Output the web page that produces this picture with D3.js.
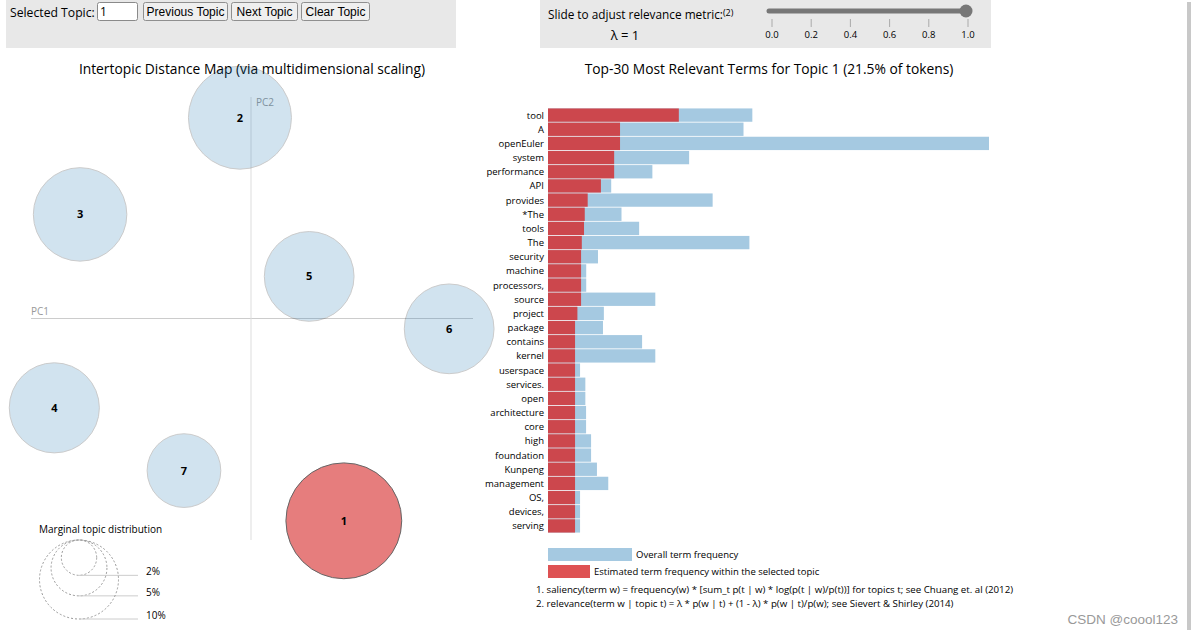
<!DOCTYPE html>
<html>
<head>
<meta charset="utf-8">
<script src="https://cdn.jsdelivr.net/npm/d3@7"></script>
<style>
  html, body { margin: 0; padding: 0; background: #fff; }
  svg { display: block; font-family: "Open Sans", "Noto Sans", sans-serif; }
</style>
</head>
<body>
<svg id="chart" width="1191" height="635"></svg>
<script>
// ---------------- data ----------------
const topicIds   = [1, 2, 3, 4, 5, 6, 7];
const topicPC1   = [0.126, -0.015, -0.232, -0.267, 0.079, 0.269, -0.091];
const topicPC2   = [-0.274, 0.272, 0.141, -0.121, 0.057, -0.014, -0.206];
const topicFreq  = [21.5, 17.0, 14.0, 13.0, 12.9, 12.9, 8.7];   // % of tokens
const selectedTopic = 1;

const terms = ["tool","A","openEuler","system","performance","API","provides","*The","tools","The",
  "security","machine","processors,","source","project","package","contains","kernel","userspace","services.",
  "open","architecture","core","high","foundation","Kunpeng","management","OS,","devices,","serving"];
const overallFreq = [13.9,13.3,30.0,9.6,7.1,4.3,11.2,5.0,6.2,13.7,
  3.4,2.6,2.6,7.3,3.8,3.74,6.4,7.3,2.18,2.54,
  2.54,2.59,2.59,2.93,2.93,3.33,4.1,2.18,2.18,2.18];
const topicTermFreq = [8.9,4.9,4.9,4.5,4.5,3.6,2.7,2.5,2.45,2.3,
  2.25,2.25,2.25,2.25,2.0,1.84,1.84,1.84,1.84,1.84,
  1.84,1.84,1.84,1.84,1.84,1.84,1.84,1.84,1.84,1.84];

const sliderTicks = [0.0, 0.2, 0.4, 0.6, 0.8, 1.0];
const lambdaValue = 1;
const marginalLegend = [2, 5, 10];

// ---------------- drawing ----------------
const svg = d3.select("#chart");
const blue = "#1f77b4", red = "#d62728";

// --- top control panels
svg.append("rect").attr("x", 6).attr("y", 0).attr("width", 450).attr("height", 48).attr("fill", "#e8e8e8");
svg.append("rect").attr("x", 540).attr("y", 0).attr("width", 451).attr("height", 48).attr("fill", "#e8e8e8");

svg.append("text").attr("x", 10).attr("y", 16.5).attr("font-size", 12.2).attr("fill", "#000").text("Selected Topic:");
// input box
svg.append("rect").attr("x", 97.5).attr("y", 2.5).attr("width", 40).attr("height", 18).attr("rx", 2)
  .attr("fill", "#fff").attr("stroke", "#8a8a8a");
svg.append("text").attr("x", 100).attr("y", 15.5).attr("font-size", 12).text(String(selectedTopic));
const buttons = [["Previous Topic", 143, 84], ["Next Topic", 231, 66], ["Clear Topic", 301, 68]];
buttons.forEach(([label, x, w]) => {
  svg.append("rect").attr("x", x + 0.5).attr("y", 2.5).attr("width", w).attr("height", 18).attr("rx", 2)
    .attr("fill", "#efefef").attr("stroke", "#8f8f8f");
  svg.append("text").attr("x", x + w / 2 + 0.5).attr("y", 15.5).attr("text-anchor", "middle")
    .attr("font-family", "Liberation Sans, Arial, sans-serif").attr("font-size", 12).text(label);
});

// slider
const sl = svg.append("text").attr("x", 548).attr("y", 19).attr("font-size", 11.8);
sl.append("tspan").text("Slide to adjust relevance metric:");
sl.append("tspan").attr("font-size", 9).attr("dy", -3).text("(2)");
svg.append("text").attr("x", 625).attr("y", 40).attr("font-size", 13).attr("text-anchor", "middle")
  .text("λ = " + lambdaValue);
const sx = d3.scaleLinear().domain([0, 1]).range([772, 968]);
svg.append("line").attr("x1", 769).attr("x2", 968).attr("y1", 11).attr("y2", 11)
  .attr("stroke", "#777").attr("stroke-width", 5).attr("stroke-linecap", "round");
svg.append("circle").attr("cx", sx(lambdaValue) - 2).attr("cy", 11).attr("r", 6.5).attr("fill", "#777");
const tickG = svg.append("g");
sliderTicks.forEach(t => {
  tickG.append("line").attr("x1", sx(t)).attr("x2", sx(t)).attr("y1", 19).attr("y2", 27)
    .attr("stroke", "#aaa").attr("stroke-width", 1);
  tickG.append("text").attr("x", sx(t)).attr("y", 38).attr("text-anchor", "middle")
    .attr("font-size", 9.5).text(t.toFixed(1));
});

// --- intertopic distance map
svg.append("text").attr("x", 252).attr("y", 74).attr("text-anchor", "middle").attr("font-size", 13.8)
  .text("Intertopic Distance Map (via multidimensional scaling)");

const xs = d3.scaleLinear().domain([-0.3, 0.3]).range([30, 472]);
const ys = d3.scaleLinear().domain([-0.3, 0.3]).range([540, 97]);
const rs = d3.scaleSqrt().domain([0, 10]).range([0, 39.5]);

const mapG = svg.append("g");
mapG.append("line").attr("x1", xs(-0.3) + 1).attr("x2", xs(0.3) + 1).attr("y1", ys(0)).attr("y2", ys(0))
  .attr("stroke", "#ccc");
mapG.append("line").attr("x1", xs(0)).attr("x2", xs(0)).attr("y1", ys(0.3)).attr("y2", ys(-0.3))
  .attr("stroke", "#ddd");
mapG.append("text").attr("x", xs(-0.3) + 1).attr("y", ys(0) - 4).attr("font-size", 10).attr("fill", "#999").text("PC1");
mapG.append("text").attr("x", xs(0) + 5).attr("y", ys(0.3) + 9).attr("font-size", 10).attr("fill", "#999").text("PC2");

const topics = topicIds.map((id, i) => ({ id, x: topicPC1[i], y: topicPC2[i], f: topicFreq[i] }));
const ordered = topics.filter(d => d.id !== selectedTopic).concat(topics.filter(d => d.id === selectedTopic));
ordered.forEach(d => {
  const sel = d.id === selectedTopic;
  mapG.append("circle").attr("cx", xs(d.x)).attr("cy", ys(d.y)).attr("r", rs(d.f))
    .attr("fill", sel ? red : blue).attr("stroke", "black").style("opacity", sel ? 0.6 : 0.2);
});
ordered.forEach(d => {
  mapG.append("text").attr("x", xs(d.x)).attr("y", ys(d.y) + 4).attr("text-anchor", "middle")
    .attr("font-size", 11).attr("font-weight", "bold").attr("fill", "#000").text(d.id);
});

// marginal legend
svg.append("text").attr("x", 39).attr("y", 533).attr("font-size", 10).text("Marginal topic distribution");
const legTop = 540, legCx = 79;
marginalLegend.forEach(v => {
  const r = rs(v);
  svg.append("circle").attr("cx", legCx).attr("cy", legTop + r).attr("r", r)
    .attr("fill", "none").attr("stroke", "#999").attr("stroke-dasharray", "2 2");
  svg.append("line").attr("x1", legCx).attr("x2", 138).attr("y1", legTop + 2 * r).attr("y2", legTop + 2 * r)
    .attr("stroke", "#ccc");
  svg.append("text").attr("x", 146).attr("y", legTop + 2 * r).attr("font-size", 10).attr("fill", "#000").text(v + "%");
});

// --- bar chart
svg.append("text").attr("x", 769).attr("y", 74).attr("text-anchor", "middle").attr("font-size", 13.8)
  .text("Top-30 Most Relevant Terms for Topic " + selectedTopic + " (" + topicFreq[topicIds.indexOf(selectedTopic)] + "% of tokens)");

const bx = d3.scaleLinear().domain([0, d3.max(overallFreq)]).range([548, 989]);
const by = d3.scaleBand().domain(terms).range([108, 533]).paddingInner(0.06).paddingOuter(0.03);
const barG = svg.append("g");
terms.forEach((t, i) => {
  barG.append("rect").attr("x", bx(0)).attr("y", by(t)).attr("width", bx(overallFreq[i]) - bx(0))
    .attr("height", by.bandwidth()).attr("fill", blue).attr("opacity", 0.4);
});
terms.forEach((t, i) => {
  barG.append("rect").attr("x", bx(0)).attr("y", by(t)).attr("width", bx(topicTermFreq[i]) - bx(0))
    .attr("height", by.bandwidth()).attr("fill", red).attr("opacity", 0.8);
});
terms.forEach(t => {
  barG.append("text").attr("x", 544).attr("y", by(t) + by.bandwidth() / 2 + 3.5).attr("text-anchor", "end")
    .attr("font-size", 9.5).attr("fill", "#000").text(t);
});

// legend
svg.append("rect").attr("x", 548).attr("y", 548).attr("width", 84).attr("height", 13).attr("fill", blue).attr("opacity", 0.4);
svg.append("text").attr("x", 636).attr("y", 558).attr("font-size", 9.5).text("Overall term frequency");
svg.append("rect").attr("x", 548).attr("y", 565).attr("width", 42).attr("height", 13).attr("fill", red).attr("opacity", 0.8);
svg.append("text").attr("x", 594).attr("y", 575).attr("font-size", 9.5).text("Estimated term frequency within the selected topic");
svg.append("text").attr("x", 536).attr("y", 593).attr("font-size", 9.7)
  .text("1. saliency(term w) = frequency(w) * [sum_t p(t | w) * log(p(t | w)/p(t))] for topics t; see Chuang et. al (2012)");
svg.append("text").attr("x", 536).attr("y", 607).attr("font-size", 9.7)
  .text("2. relevance(term w | topic t) = λ * p(w | t) + (1 - λ) * p(w | t)/p(w); see Sievert & Shirley (2014)");

// page chrome: scrollbar edge + watermark
svg.append("rect").attr("x", 1187).attr("y", 2).attr("width", 4).attr("height", 628).attr("fill", "#c8c8c8");
svg.append("text").attr("x", 1178).attr("y", 624).attr("text-anchor", "end").attr("font-size", 13.5)
  .attr("fill", "#999").attr("font-family", "Liberation Sans, Arial, sans-serif").text("CSDN @coool123");
</script>
</body>
</html>
